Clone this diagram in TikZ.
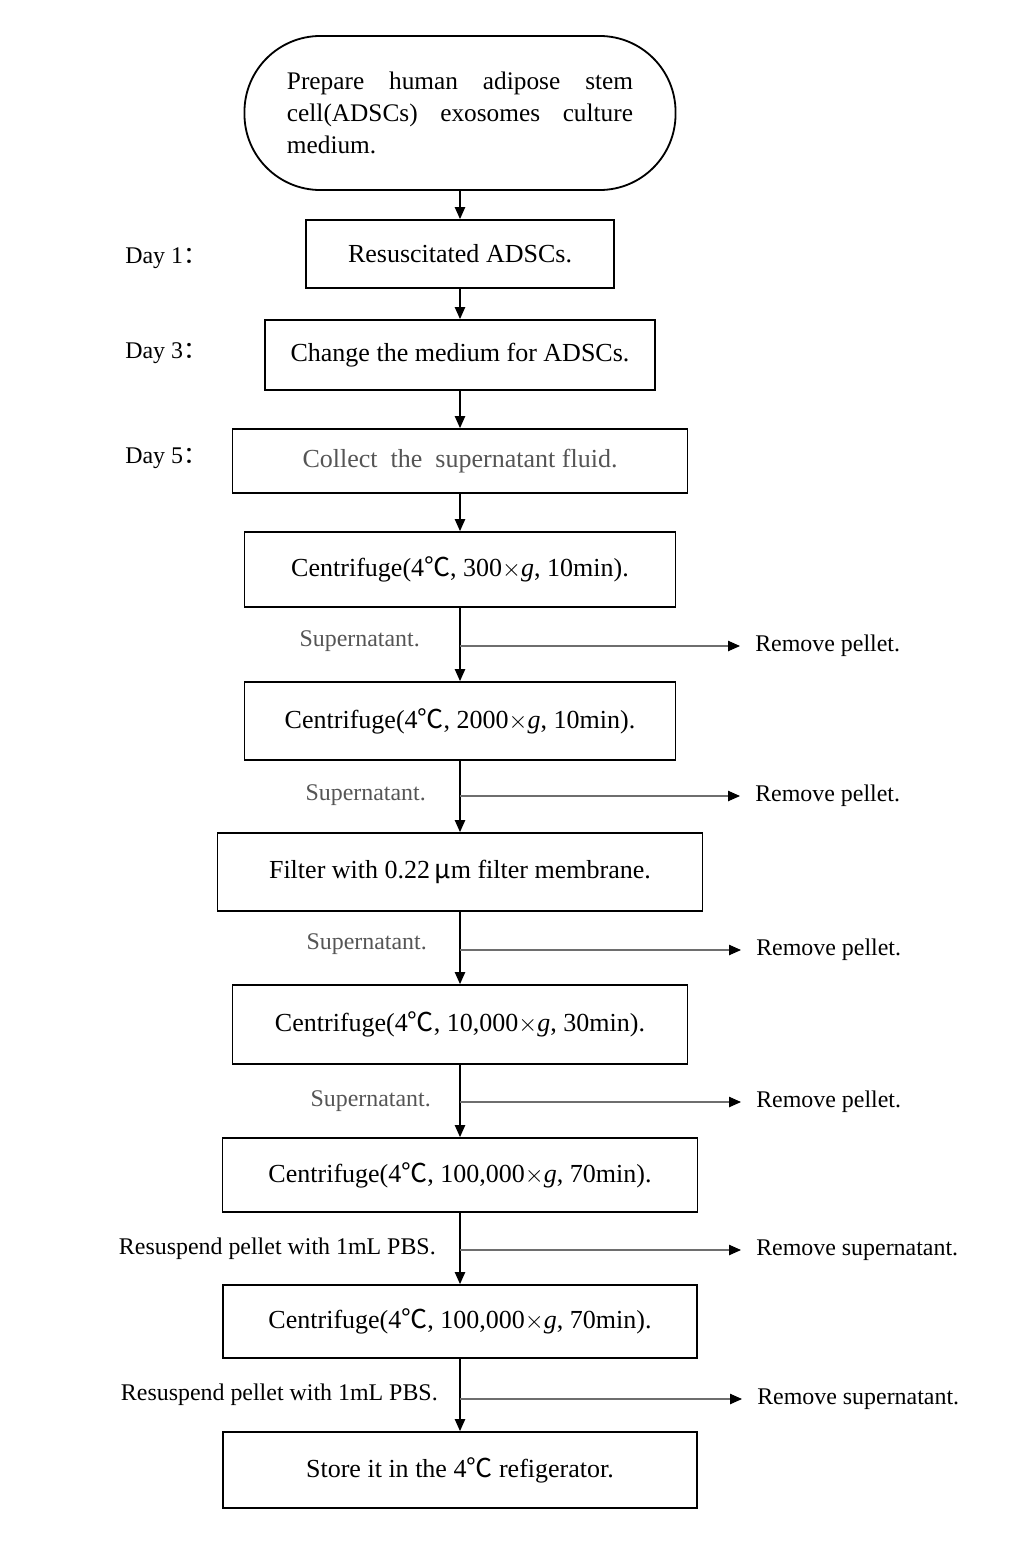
\documentclass[tikz,border=0pt]{standalone}
\usepackage{fontspec}
\setmainfont{Liberation Serif}
\newfontfamily\cjk{Noto Sans CJK SC}
\usetikzlibrary{arrows.meta}
\definecolor{labelgray}{RGB}{85,85,85}
\definecolor{linegray}{RGB}{110,110,110}
\newcommand{\degc}{{\cjk ℃}}
\newcommand{\dayc}{{\cjk ：}}
\newcommand{\mum}{{\cjk μ}m}
\newcommand{\xg}{$\times$\textit{g}}
\tikzset{
  stepbox/.style={draw, line width=1.3pt, inner sep=0pt,
    font=\fontsize{18.5}{22}\selectfont},
  startbox/.style={stepbox, rounded corners=1.9cm, text width=8.65cm,
    align=justify, minimum width=10.775cm, minimum height=3.85cm,
    font=\fontsize{18}{22.8}\selectfont},
  daylabel/.style={anchor=west, inner sep=0pt, font=\fontsize{17}{20}\selectfont},
  keeplabel/.style={anchor=east, inner sep=0pt, text=labelgray,
    font=\fontsize{17}{20}\selectfont},
  droplabel/.style={anchor=west, inner xsep=0.375cm, inner ysep=0pt,
    font=\fontsize{17}{20}\selectfont}
}
\begin{document}
\begin{tikzpicture}[x=0.025cm, y=-0.025cm, >={Triangle[length=3mm,width=2.6mm]}]
  \useasboundingbox (0,0) rectangle (1017,1551);
  \draw
    (460,113) node[startbox] (0){Prepare human adipose stem\linebreak
      cell(ADSCs) exosomes culture\linebreak medium.}
    (460,254) node[stepbox, minimum width=7.7cm, minimum height=1.7cm] (1){Resuscitated ADSCs.}
    (460,355) node[stepbox, minimum width=9.75cm, minimum height=1.75cm] (2){Change the medium for ADSCs.}
    (460,461) node[stepbox, minimum width=11.375cm, minimum height=1.6cm, text=labelgray] (3){Collect\ \ the\ \ supernatant fluid.}
    (460,569.5) node[stepbox, minimum width=10.775cm, minimum height=1.875cm] (4){Centrifuge(4\degc, 300\xg, 10min).}
    (460,721) node[stepbox, minimum width=10.775cm, minimum height=1.95cm] (5){Centrifuge(4\degc, 2000\xg, 10min).}
    (460,872) node[stepbox, minimum width=12.125cm, minimum height=1.95cm] (6){Filter with 0.22\,\mum\ filter membrane.}
    (460,1024.5) node[stepbox, minimum width=11.375cm, minimum height=1.975cm] (7){Centrifuge(4\degc, 10,000\xg, 30min).}
    (460,1175) node[stepbox, minimum width=11.875cm, minimum height=1.85cm] (8){Centrifuge(4\degc, 100,000\xg, 70min).}
    (460,1321.5) node[stepbox, minimum width=11.85cm, minimum height=1.825cm] (9){Centrifuge(4\degc, 100,000\xg, 70min).}
    (460,1470) node[stepbox, minimum width=11.85cm, minimum height=1.9cm] (10){Store it in the 4\degc\ refigerator.};
  % days
  \draw
    (125,258) node[daylabel] (d1){Day 1\dayc}
    (125,353) node[daylabel] (d3){Day 3\dayc}
    (125,458) node[daylabel] (d5){Day 5\dayc};
  % what is kept, what is removed
  \draw
    (460,646) coordinate (b4)
    (460,796) coordinate (b5)
    (460,950) coordinate (b6)
    (460,1102) coordinate (b7)
    (460,1250) coordinate (b8)
    (460,1399) coordinate (b9)
    (420,641) node[keeplabel] (k4){Supernatant.}
    (426,795) node[keeplabel] (k5){Supernatant.}
    (427,944) node[keeplabel] (k6){Supernatant.}
    (431,1101) node[keeplabel] (k7){Supernatant.}
    (436,1249) node[keeplabel, text=black] (k8){Resuspend pellet with 1mL PBS.}
    (438,1395) node[keeplabel, text=black] (k9){Resuspend pellet with 1mL PBS.}
    (740,646) node[droplabel] (r4){Remove pellet.}
    (740,796) node[droplabel] (r5){Remove pellet.}
    (741,950) node[droplabel] (r6){Remove pellet.}
    (741,1102) node[droplabel] (r7){Remove pellet.}
    (741,1250) node[droplabel] (r8){Remove supernatant.}
    (742,1399) node[droplabel] (r9){Remove supernatant.};
  \begin{scope}[->, line width=0.8pt]
    \draw (0) to (1);
    \draw (1) to (2);
    \draw (2) to (3);
    \draw (3) to (4);
    \draw (4) to (5);
    \draw (5) to (6);
    \draw (6) to (7);
    \draw (7) to (8);
    \draw (8) to (9);
    \draw (9) to (10);
  \end{scope}
  \begin{scope}[-{Triangle[length=3mm,width=2.6mm,color=black]}, line width=0.8pt, draw=linegray]
    \draw (b4) to (r4);
    \draw (b5) to (r5);
    \draw (b6) to (r6);
    \draw (b7) to (r7);
    \draw (b8) to (r8);
    \draw (b9) to (r9);
  \end{scope}
\end{tikzpicture}
\end{document}
